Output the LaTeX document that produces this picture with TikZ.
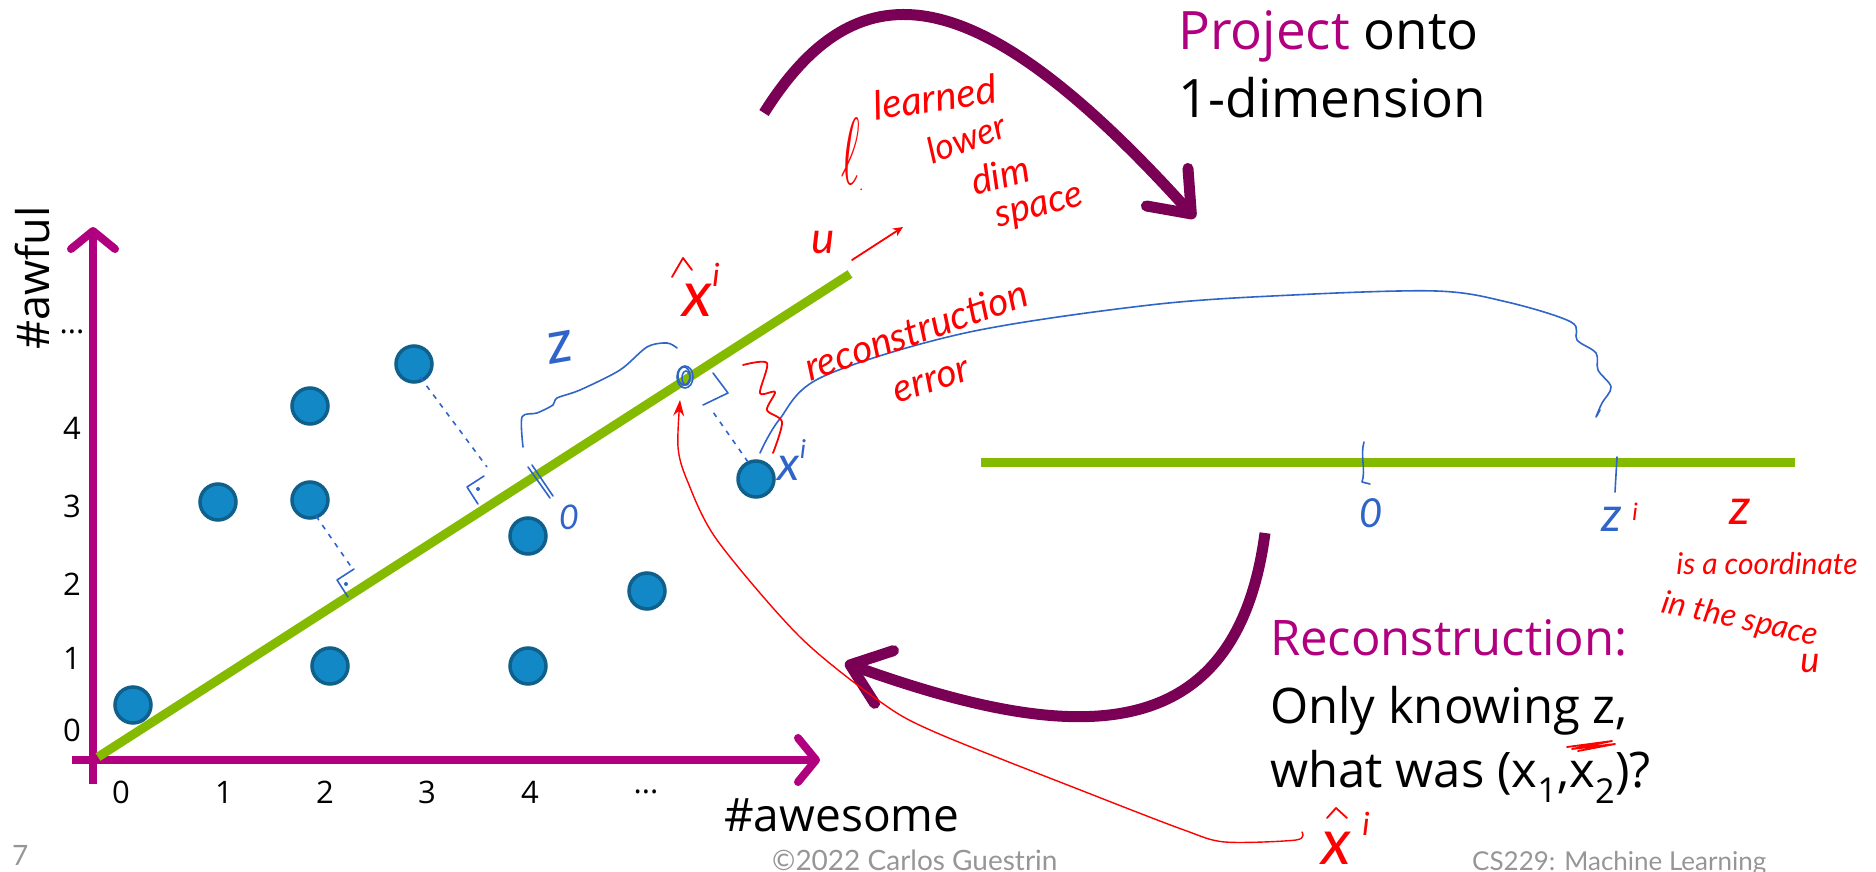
\documentclass[tikz,border=0pt]{standalone}
\usepackage{graphicx}
\usepackage{fontspec}
\setmainfont{Open Sans}
\newfontfamily\latofont{Lato}
\usetikzlibrary{arrows.meta}
\definecolor{axismag}{RGB}{176,0,128}
\definecolor{arrpurp}{RGB}{122,0,86}
\definecolor{ptfill}{RGB}{18,136,198}
\definecolor{ptdraw}{RGB}{16,96,140}
\definecolor{lgreen}{RGB}{132,187,0}
\definecolor{hred}{RGB}{255,0,0}
\definecolor{hblue}{RGB}{47,100,200}
\definecolor{footgray}{RGB}{150,150,150}
\newcommand\myfs[1]{\fontsize{#1}{#1}\selectfont}
\begin{document}
\begin{tikzpicture}[x=1pt,y=-1pt,
  axisline/.style={line width=8pt, draw=axismag, -{Straight Barb[length=18pt,width=44pt,round]}},
  bigarrow/.style={line width=11pt, draw=arrpurp, -{Straight Barb[length=36pt,width=56pt,round]}},
  greenline/.style={line width=9pt, draw=lgreen},
  pt/.style={circle, fill=ptfill, draw=ptdraw, line width=3.5pt, minimum size=36pt, inner sep=0pt},
  ticklab/.style={font=\myfs{31}, text=black, inner sep=0pt},
  slide/.style={font=\myfs{53}, inner sep=0pt, anchor=base west},
  slideb/.style={font=\myfs{49}, inner sep=0pt, anchor=base west},
  foot/.style={font=\latofont\myfs{28}, text=footgray, inner sep=0pt, anchor=base west},
  hwred/.style={text=hred, font=\latofont\itshape\myfs{38}, inner sep=0pt},
  hwblue/.style={text=hblue, font=\latofont\itshape\myfs{38}, inner sep=0pt},
  redline/.style={draw=hred, line width=1.8pt, line cap=round, line join=round},
  blueline/.style={draw=hblue, line width=1.6pt, line cap=round, line join=round},
  bluedots/.style={draw=hblue, line width=1.6pt, dash pattern=on 5pt off 6pt}
]
\useasboundingbox (0,0) rectangle (1876,872);

% ---------------- axes ----------------
\coordinate (yb) at (93,784);
\coordinate (yt) at (93,227);
\coordinate (xl) at (72,760);
\coordinate (xr) at (820,760);
\draw[axisline] (yb) -- (yt);
\draw[axisline] (xl) -- (xr);

\node[ticklab] (y0) at (72,730) {0};
\node[ticklab] (y1) at (72,658) {1};
\node[ticklab] (y2) at (72,584) {2};
\node[ticklab] (y3) at (72,506) {3};
\node[ticklab] (y4) at (72,428) {4};
\node[ticklab] (ydots) at (72,332) {...};
\node[ticklab] (x0) at (121,792) {0};
\node[ticklab] (x1) at (224,792) {1};
\node[ticklab] (x2) at (325,792) {2};
\node[ticklab] (x3) at (427,792) {3};
\node[ticklab] (x4) at (530,792) {4};
\node[ticklab] (xdots) at (646,792) {...};

\node[font=\myfs{45}, inner sep=0pt, rotate=90] (awful) at (33,278) {\#awful};
\node[font=\myfs{46}, inner sep=0pt, anchor=base west] (awesome) at (724,831) {\#awesome};

% ---------------- green lines ----------------
\coordinate (g0) at (98,757);
\coordinate (g1) at (850,274);
\draw[greenline] (g0) -- (g1);
\coordinate (h0) at (981,462);
\coordinate (h1) at (1795,462);
\draw[greenline] (h0) -- (h1);

% ---------------- data points ----------------
\node[pt] (p1) at (133,705) {};
\node[pt] (p2) at (310,406) {};
\node[pt] (p3) at (414,364) {};
\node[pt] (p4) at (218,502) {};
\node[pt] (p5) at (310,500) {};
\node[pt] (p6) at (528,536) {};
\node[pt] (p7) at (647,591) {};
\node[pt] (p8) at (330,666) {};
\node[pt] (p9) at (528,666) {};
\node[pt] (p10) at (756,479) {};

% ---------------- purple arrows ----------------
\coordinate (a0) at (764,113);
\coordinate (a1) at (1195,218);
\draw[bigarrow] (a0) .. controls (860,-40) and (980,-20) .. (a1);
\coordinate (b0) at (1265,533);
\coordinate (b1) at (845,663);
\draw[bigarrow] (b0) .. controls (1235,760) and (1060,740) .. (b1);

% ---------------- slide text ----------------
\node[slide] (proj) at (1178,50) {\textcolor{axismag}{Project} onto};
\node[slide] (dim) at (1178,118) {1-dimension};
\node[slideb, text=axismag] (recon) at (1270,655) {Reconstruction:};
\node[slideb] (only) at (1270,723) {Only knowing z,};
\node[slideb] (what) at (1270,787) {what was (x\textsubscript{1},x\textsubscript{2})?};

\node[foot] (pg) at (12,865) {7};
\node[foot] (copy) at (772,870) {©2022 Carlos Guestrin};
\node[foot, font=\latofont\myfs{26}] (course) at (1472,870) {CS229: Machine Learning};

% ---------------- blue annotations ----------------
\draw[bluedots] (420,377) -- (487,467);
\draw[blueline] (478,504) -- (467,487) -- (484,476);
\fill[hblue] (478,489) circle (2pt);
\draw[bluedots] (316,516) -- (352,568);
\draw[blueline] (348,597) -- (337,580) -- (354,569);
\fill[hblue] (346,584) circle (2pt);
\draw[bluedots] (748,462) -- (713,412);
\draw[blueline] (713,373) -- (728,393) -- (703,405);
\draw[blueline] (528,467) -- (550,498);
\draw[blueline] (532,465) -- (553,496);
\draw[blueline] (685,377) ellipse (8pt and 11pt);
\draw[blueline] (684,376) ellipse (6pt and 9pt);
\draw[blueline] (686,378) ellipse (4pt and 7pt);
\draw[blueline] plot[smooth] coordinates {(523,447) (522,417) (537,413) (553,405) (557,398) (580,390) (620,370) (647,347) (667,343) (677,348)};
\node[hwblue, font=\latofont\itshape\myfs{60}, rotate=10] (bz) at (560,347) {z};
\node[hwblue, font=\latofont\itshape\myfs{34}] (b0lab) at (569,517) {0};
\node[hwblue, font=\latofont\itshape\myfs{48}] (bxi) at (789,468) {x};
\node[hwblue, font=\latofont\itshape\myfs{26}] (bxisup) at (803,449) {i};
\draw[blueline] plot[smooth, tension=0.55] coordinates {(760,453) (779,420) (822,377) (965,333) (1150,305) (1293,295) (1436,291) (1507,302) (1571,322) (1577,340) (1596,353) (1598,370) (1611,387) (1602,403) (1596,417) (1600,410)};
\draw[blueline] (1364,442) .. controls (1360,455) and (1366,470) .. (1362,482) -- (1370,484);
\draw[blueline] (1617,457) -- (1615,492);
\node[hwblue, font=\latofont\itshape\myfs{40}] (zero) at (1371,513) {0};
\node[hwblue, font=\latofont\itshape\myfs{48}] (zi) at (1612,519) {z};
\node[hwred, font=\latofont\itshape\myfs{24}] (zisup) at (1635,512) {i};

% ---------------- red annotations ----------------
\node[hwred, font=\latofont\itshape\myfs{40}, rotate=8] (learned) at (935,97) {learned};
\node[hwred, font=\fontsize{10}{10}\selectfont] (ell) at (852,155) {\scalebox{4.5}[9.5]{$\ell$}\raisebox{-6pt}{\textbf{.}}};
\node[hwred, font=\latofont\itshape\myfs{36}, rotate=20] (lower) at (966,138) {lower};
\node[hwred, font=\latofont\itshape\myfs{38}, rotate=15] (dimw) at (1000,175) {dim};
\node[hwred, font=\latofont\itshape\myfs{38}, rotate=15] (space) at (1040,210) {space};
\node[hwred, font=\latofont\itshape\myfs{44}] (u1) at (823,243) {u};
\draw[redline, -{Stealth[length=10pt,width=9pt]}] (852,260) -- (903,227);
\node[hwred, font=\latofont\itshape\myfs{64}] (xhat) at (697,300) {x};
\node[hwred, font=\latofont\itshape\myfs{32}] (xhatsup) at (716,275) {i};
\draw[redline] (672,277) -- (683,258) -- (692,270);
\draw[redline] plot[smooth] coordinates {(743,365) (767,363) (760,393) (775,392) (767,410) (782,422) (773,453)};
\node[hwred, font=\latofont\itshape\myfs{39}, rotate=19] (reco) at (916,330) {reconstruction};
\node[hwred, font=\latofont\itshape\myfs{39}, rotate=18] (err) at (932,382) {error};
\draw[redline, line width=1.4pt, -{Stealth[length=16pt,width=11pt]}] plot[smooth] coordinates {(1302,832) (1296,840) (1225,842) (1184,830) (1088,793) (937,733) (882,703) (800,637) (717,540) (687,480) (678,447) (680,400)};
\node[hwred, font=\latofont\itshape\myfs{64}] (xhat2) at (1336,848) {x};
\node[hwred, font=\latofont\itshape\myfs{32}] (xhat2sup) at (1366,824) {i};
\draw[redline] (1327,818) -- (1336,808) -- (1347,818);
\node[hwred, font=\latofont\itshape\myfs{50}] (zr) at (1740,512) {z};
\node[hwred, font=\latofont\itshape\myfs{30}] (isa) at (1767,564) {is a coordinate};
\node[hwred, font=\latofont\itshape\myfs{32}, rotate=-12] (inthe) at (1740,620) {in the space};
\node[hwred, font=\latofont\itshape\myfs{36}] (u2) at (1810,664) {u};
\draw[redline] (1567,747) -- (1612,741) -- (1572,749) -- (1615,744) -- (1578,751);
\end{tikzpicture}
\end{document}
